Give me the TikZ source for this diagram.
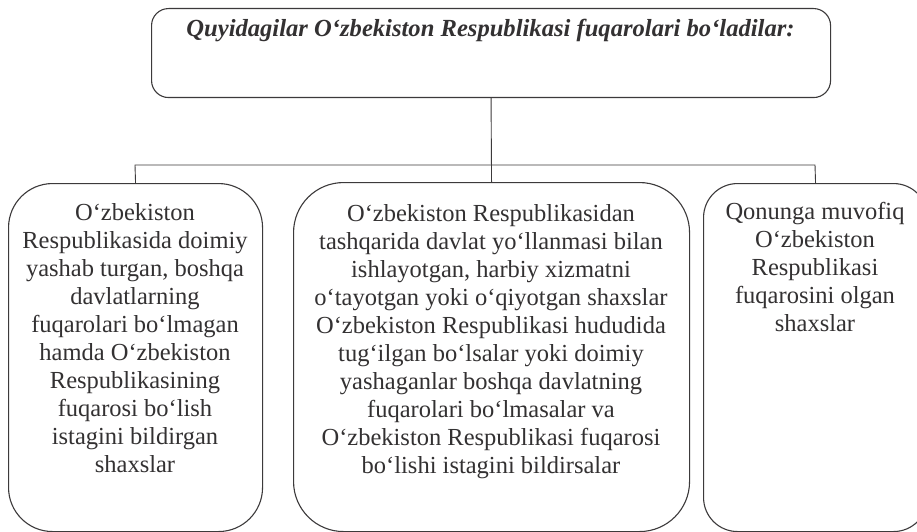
\documentclass[tikz,border=0pt]{standalone}
\usepackage{fontspec}
\setmainfont{Liberation Serif}
\definecolor{linec}{HTML}{3C3A3B}
\definecolor{textc}{HTML}{333132}
\tikzset{
  boxshape/.style={draw=linec, line width=1.1pt, anchor=north west, inner sep=0pt},
  bodytext/.style={anchor=north, inner sep=0pt, align=center, text=textc,
    font=\fontsize{24.5}{28}\selectfont},
  titletext/.style={anchor=base, inner sep=0pt, text=textc,
    font=\fontsize{24.6}{28}\selectfont\bfseries\itshape},
  conn/.style={draw=linec, line width=0.9pt}
}
\begin{document}
\begin{tikzpicture}[x=1pt,y=-1pt]
\clip (0,0) rectangle (917,532);
\fill[white] (0,0) rectangle (917,532);
% boxes
\node[boxshape, rounded corners=17pt, minimum width=679pt, minimum height=89pt] (top) at (151,8) {};
\node[boxshape, rounded corners=44pt, minimum width=254pt, minimum height=348pt] (left) at (8,183) {};
\node[boxshape, rounded corners=50pt, minimum width=396pt, minimum height=349pt] (mid) at (293,182) {};
\node[boxshape, rounded corners=34pt, minimum width=224pt, minimum height=348pt] (right) at (703,183) {};
% texts
\node[titletext] (ttl) at (490.5,37) {Quyidagilar O‘zbekiston Respublikasi fuqarolari bo‘ladilar:};
\node[bodytext] (ltx) at (135,203) {O‘zbekiston\\Respublikasida doimiy\\yashab turgan, boshqa\\davlatlarning\\fuqarolari bo‘lmagan\\hamda O‘zbekiston\\Respublikasining\\fuqarosi bo‘lish\\istagini bildirgan\\shaxslar};
\node[bodytext] (mtx) at (491,204) {O‘zbekiston Respublikasidan\\tashqarida davlat yo‘llanmasi bilan\\ishlayotgan, harbiy xizmatni\\o‘tayotgan yoki o‘qiyotgan shaxslar\\O‘zbekiston Respublikasi hududida\\tug‘ilgan bo‘lsalar yoki doimiy\\yashaganlar boshqa davlatning\\fuqarolari bo‘lmasalar va\\O‘zbekiston Respublikasi fuqarosi\\bo‘lishi istagini bildirsalar};
\node[bodytext] (rtx) at (815,202) {Qonunga muvofiq\\O‘zbekiston\\Respublikasi\\fuqarosini olgan\\shaxslar};
% connectors
\coordinate (hl) at (135,165);
\coordinate (hr) at (815,165);
\draw[conn] (left.north) -- (hl) -- (hr) -- (right.north);
\draw[conn] (top.south) -- (mid.north);
\end{tikzpicture}
\end{document}
